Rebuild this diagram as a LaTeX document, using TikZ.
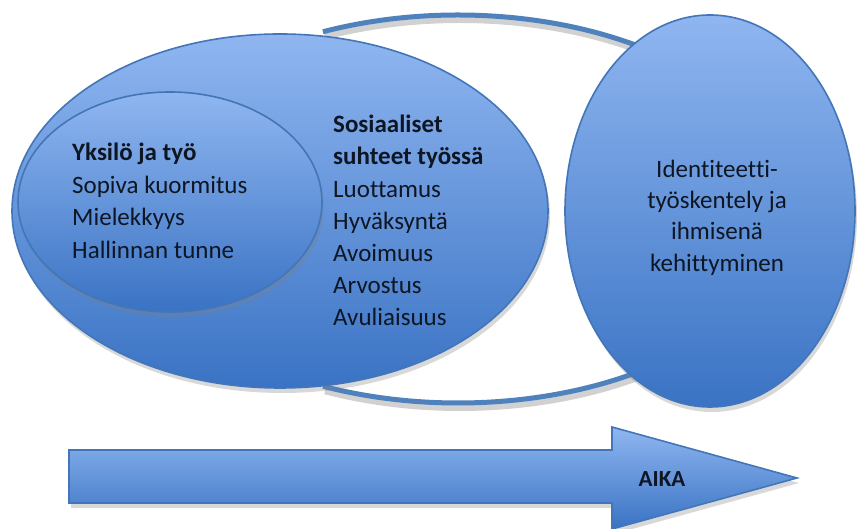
\documentclass[tikz,border=0pt]{standalone}
\usepackage{fontspec}
\setmainfont{Carlito}[Ligatures=NoCommon]
\usetikzlibrary{shapes.geometric,shadows}
\definecolor{lb}{HTML}{8FB6F0}
\definecolor{db}{HTML}{3A73C4}
\definecolor{edgec}{HTML}{4376B8}
\definecolor{ringc}{HTML}{4F81BD}
\definecolor{txtc}{HTML}{0E1624}
\tikzset{
  blob/.style={ellipse, draw=edgec, line width=1.6pt, top color=lb, bottom color=db,
    inner sep=0pt, drop shadow={opacity=0.3, shadow xshift=2pt, shadow yshift=-5pt}},
  txt/.style={font=\fontsize{25}{30}\selectfont, text=txtc, inner sep=0pt},
  txtb/.style={font=\fontsize{25}{30}\selectfont\bfseries, text=txtc, inner sep=0pt},
  ringline/.style={draw=ringc, line width=5pt},
  ringshadow/.style={draw=black, opacity=0.18, line width=6pt},
}
\begin{document}
\begin{tikzpicture}[x=1pt,y=1pt]
\useasboundingbox (0,0) rectangle (857,529);
\fill[white] (0,0) rectangle (857,529);
% outer ring (partly hidden)
\coordinate (rc) at (458,320);
\coordinate (rcs) at (460,315);
\draw[ringshadow] (rcs) ++(114:332pt and 194pt) arc[start angle=114, end angle=48, x radius=332pt, y radius=194pt];
\draw[ringshadow] (rcs) ++(-114:332pt and 194pt) arc[start angle=-114, end angle=-48, x radius=332pt, y radius=194pt];
\draw[ringline] (rc) ++(114:332pt and 194pt) arc[start angle=114, end angle=48, x radius=332pt, y radius=194pt];
\draw[ringline] (rc) ++(-114:332pt and 194pt) arc[start angle=-114, end angle=-48, x radius=332pt, y radius=194pt];
% ellipses
\node[blob, minimum width=536pt, minimum height=354pt] (big) at (280,318) {};
\node[blob, minimum width=290pt, minimum height=392pt] (right) at (710,318) {};
\node[blob, minimum width=304pt, minimum height=220pt] (inner) at (170,327) {};
% inner texts
\node[txtb, anchor=base west] (yh) at (72,368) {Yksilö ja työ};
\node[txt, anchor=base west] (y1) at (72,335.5) {Sopiva kuormitus};
\node[txt, anchor=base west] (y2) at (72,303) {Mielekkyys};
\node[txt, anchor=base west] (y3) at (72,270.5) {Hallinnan tunne};
% social texts
\node[txtb, anchor=base west] (sh1) at (333,396) {Sosiaaliset};
\node[txtb, anchor=base west] (sh2) at (333,364) {suhteet työssä};
\node[txt, anchor=base west] (s1) at (333,331) {Luottamus};
\node[txt, anchor=base west] (s2) at (333,299) {Hyväksyntä};
\node[txt, anchor=base west] (s3) at (333,267) {Avoimuus};
\node[txt, anchor=base west] (s4) at (333,235) {Arvostus};
\node[txt, anchor=base west] (s5) at (333,203) {Avuliaisuus};
% right texts
\node[txt, anchor=base] (r1) at (717,351) {Identiteetti-};
\node[txt, anchor=base] (r2) at (717,320) {työskentely ja};
\node[txt, anchor=base] (r3) at (717,289) {ihmisenä};
\node[txt, anchor=base] (r4) at (717,257) {kehittyminen};
% time arrow
\path[draw=edgec, line width=1.6pt, top color=lb, bottom color=db,
  drop shadow={opacity=0.3, shadow xshift=2pt, shadow yshift=-5pt}]
  (69,79) -- (612,79) -- (612,102) -- (797,51) -- (612,0) -- (612,26) -- (69,26) -- cycle;
\node[txtb, font=\fontsize{23}{28}\selectfont\bfseries, anchor=base] (aika) at (662,42) {AIKA};
\end{tikzpicture}
\end{document}
